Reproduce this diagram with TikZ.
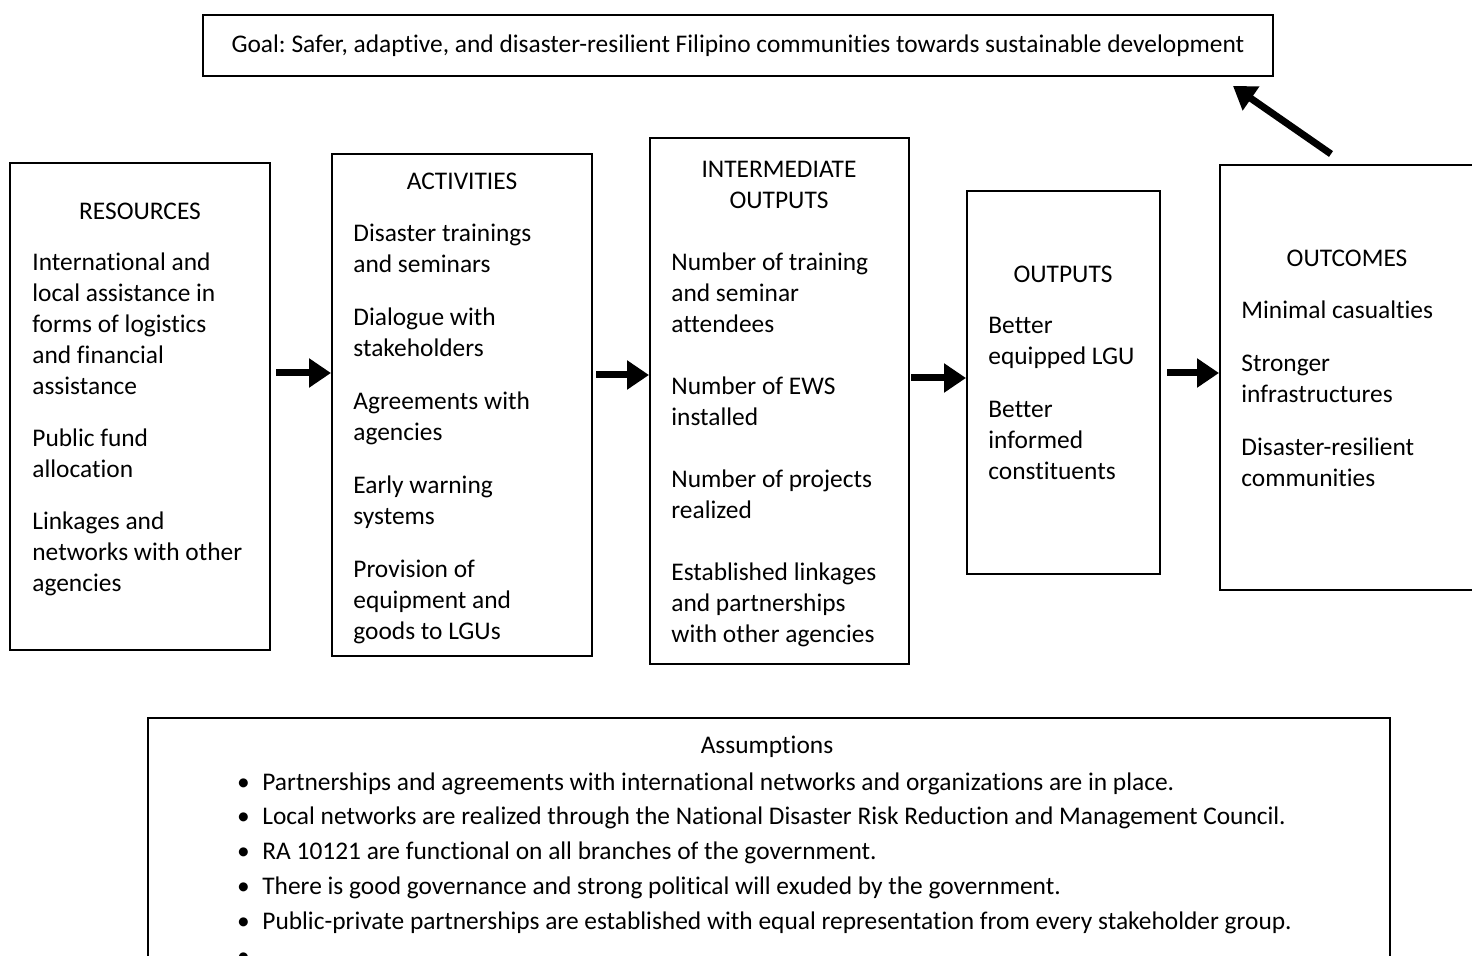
\documentclass[tikz,border=0pt]{standalone}
\usepackage{fontspec}
\setmainfont{Carlito}[Ligatures={NoCommon}]
\frenchspacing
\usetikzlibrary{arrows.meta,fit}

\tikzset{
  box/.style={draw, line width=1pt, inner sep=0pt},
  title/.style={align=center, inner sep=0pt},
  body/.style={align=left, anchor=north west, inner sep=0pt},
  flow/.style={line width=3.5pt, -{Triangle[length=11pt,width=14pt]}},
}

\begin{document}
\begin{tikzpicture}[x=0.5pt, y=-0.5pt, font=\fontsize{12.7}{15.5}\selectfont]

    \clip (0,0) rectangle (1472,956);

    %goal on top
    \node[box, minimum width=535pt, minimum height=30.5pt] (goal) at (738,45.5)
        {Goal: Safer, adaptive, and disaster-resilient Filipino communities towards sustainable development};

    %the five boxes
    \node[box, fit={(10,163) (270,650)}] (res) {};
    \node[box, fit={(332,154) (592,656)}] (act) {};
    \node[box, fit={(650,138) (909,664)}] (inter) {};
    \node[box, fit={(967,191) (1160,574)}] (outp) {};
    \node[box, fit={(1220,165) (1490,590)}] (outc) {};

    %titles
    \node[title] (resT) at (140,211) {RESOURCES};
    \node[title] (actT) at (462,181) {ACTIVITIES};
    \node[title] (interT) at (779,185) {INTERMEDIATE\\OUTPUTS};
    \node[title] (outpT) at (1063,274) {OUTPUTS};
    \node[title] (outcT) at (1347,258) {OUTCOMES};

    %texts in the boxes
    \node[body] (resB) at (32,252)
        {International and\\local assistance in\\forms of logistics\\and financial\\assistance\\[10.5pt]
         Public fund\\allocation\\[10.5pt]
         Linkages and\\networks with other\\agencies};
    \node[body] (actB) at (353,224)
        {Disaster trainings\\and seminars\\[11pt]
         Dialogue with\\stakeholders\\[11pt]
         Agreements with\\agencies\\[11pt]
         Early warning\\systems\\[11pt]
         Provision of\\equipment and\\goods to LGUs};
    \node[body] (interB) at (671,252)
        {Number of training\\and seminar\\attendees\\[15.5pt]
         Number of EWS\\installed\\[15.5pt]
         Number of projects\\realized\\[15.5pt]
         Established linkages\\and partnerships\\with other agencies};
    \node[body] (outpB) at (988,317)
        {Better\\equipped LGU\\[11pt]
         Better\\informed\\constituents};
    \node[body] (outcB) at (1241,300)
        {Minimal casualties\\[11pt]
         Stronger\\infrastructures\\[11pt]
         Disaster-resilient\\communities};

    %arrows between the boxes
    \draw[flow] ([xshift=2.5pt]res.east |- 0,373) -- (act.west |- 0,373);
    \draw[flow] ([xshift=1.5pt]act.east |- 0,375) -- (inter.west |- 0,375);
    \draw[flow] ([xshift=0.5pt]inter.east |- 0,378) -- (outp.west |- 0,378);
    \draw[flow] ([xshift=3pt]outp.east |- 0,373) -- (outc.west |- 0,373);
    \draw[flow] ([shift={(112,-10)}]outc.north west) -- ([shift={(-41,9)}]goal.south east);

    %assumptions
    \node[box, fit={(148,718) (1390,990)}] (assum) {};
    \node[title] (assumT) at (767,747) {Assumptions};
    \node[body, font=\fontsize{12.7}{17.4}\selectfont] (assumB) at (224,772)
        {\makebox[19pt]{\textbullet}Partnerships and agreements with international networks and organizations are in place.\\
         \makebox[19pt]{\textbullet}Local networks are realized through the National Disaster Risk Reduction and Management Council.\\
         \makebox[19pt]{\textbullet}RA 10121 are functional on all branches of the government.\\
         \makebox[19pt]{\textbullet}There is good governance and strong political will exuded by the government.\\
         \makebox[19pt]{\textbullet}Public-private partnerships are established with equal representation from every stakeholder group.\\
         \makebox[19pt]{\textbullet}};

\end{tikzpicture}
\end{document}
